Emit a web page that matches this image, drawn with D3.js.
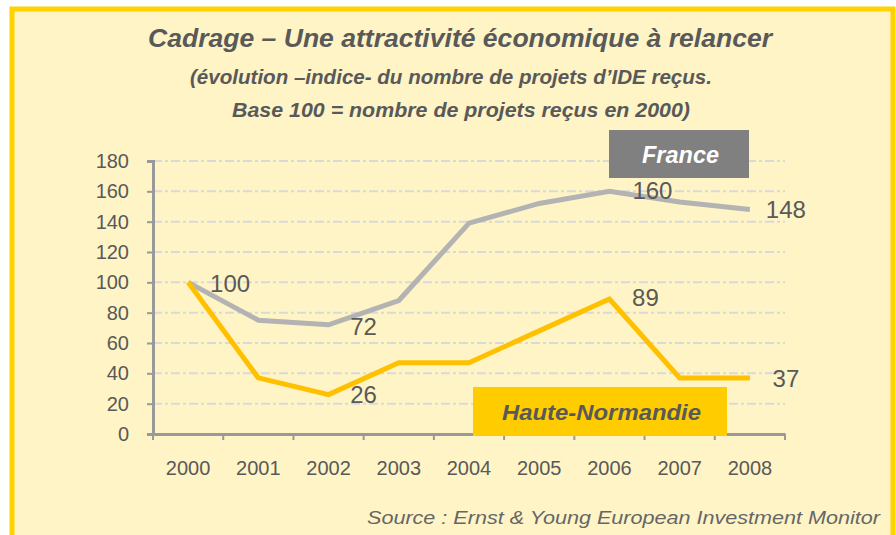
<!DOCTYPE html>
<html>
<head>
<meta charset="utf-8">
<script src="https://cdn.jsdelivr.net/npm/d3@7"></script>
<style>
  body { margin: 0; background: #ffffff; }
  svg { display: block; font-family: "Liberation Sans", Arial, sans-serif; }
</style>
</head>
<body>
<svg id="chart"></svg>
<script>
const years = ["2000", "2001", "2002", "2003", "2004", "2005", "2006", "2007", "2008"]
const france = [100, 75, 72, 88, 139, 152, 160, 153, 148]
const hauteNormandie = [100, 37, 26, 47, 47, 68, 89, 37, 37]
const yTicks = [0, 20, 40, 60, 80, 100, 120, 140, 160, 180]

const width = 896
const height = 535

let svg = d3.select("#chart")
  .attr("width", width)
  .attr("height", height)

// panel with yellow border
svg.append("rect")
  .attr("x", 12).attr("y", 9)
  .attr("width", 881).attr("height", 540)
  .attr("fill", "#fef4c6")
  .attr("stroke", "#ffd200")
  .attr("stroke-width", 5)

// text helper: fit to the measured width of the original
function fitText(str, x1, x2, yb, size, weight, style, color) {
  return svg.append("text")
    .attr("x", x1).attr("y", yb)
    .attr("textLength", x2 - x1)
    .attr("lengthAdjust", "spacingAndGlyphs")
    .attr("font-size", size)
    .attr("font-weight", weight)
    .attr("font-style", style)
    .attr("fill", color)
    .text(str)
}

fitText("Cadrage – Une attractivité économique à relancer", 148, 772, 47, 25, "bold", "italic", "#595959")
fitText("(évolution –indice- du nombre de projets d’IDE reçus.", 190, 712, 84, 20, "bold", "italic", "#595959")
fitText("Base 100 = nombre de projets reçus en 2000)", 232, 690, 117, 20, "bold", "italic", "#595959")

let x = d3.scaleBand().domain(years).range([153, 785])
let y = d3.scaleLinear().domain([0, 180]).range([434, 161])

// gridlines
svg.append("g")
  .selectAll("line")
  .data(yTicks.slice(1))
  .join("line")
  .attr("x1", 153).attr("x2", 785)
  .attr("y1", d => y(d)).attr("y2", d => y(d))
  .attr("stroke", "#d9d9d9")
  .attr("stroke-width", 2)
  .attr("stroke-dasharray", "9,3,3,3")

// y axis
let yAxis = svg.append("g")
  .attr("transform", "translate(153,0)")
  .call(d3.axisLeft(y).tickValues(yTicks).tickSize(6).tickPadding(18))
yAxis.select(".domain").attr("stroke", "#999999").attr("stroke-width", 3)
yAxis.selectAll(".tick line").attr("stroke", "#999999").attr("stroke-width", 2)
yAxis.selectAll("text")
  .attr("font-size", 20).attr("fill", "#595959")
  .attr("font-family", "Liberation Sans, Arial, sans-serif")

// x axis
let xAxis = svg.append("g")
  .attr("transform", "translate(0,434)")
  .call(d3.axisBottom(x).tickSize(0).tickPadding(27))
xAxis.select(".domain").attr("stroke", "#999999").attr("stroke-width", 3)
xAxis.selectAll("text")
  .attr("font-size", 20).attr("fill", "#595959")
  .attr("font-family", "Liberation Sans, Arial, sans-serif")
xAxis.append("g")
  .selectAll("line")
  .data(years.concat(["end"]))
  .join("line")
  .attr("x1", (d, i) => 153 + i * x.step())
  .attr("x2", (d, i) => 153 + i * x.step())
  .attr("y1", 0).attr("y2", 6)
  .attr("stroke", "#999999").attr("stroke-width", 2)

let line = d3.line()
  .x((d, i) => x(years[i]) + x.bandwidth() / 2)
  .y(d => y(d))

svg.append("path")
  .datum(france)
  .attr("d", line)
  .attr("fill", "none")
  .attr("stroke", "#b3b3b3")
  .attr("stroke-width", 5)

svg.append("path")
  .datum(hauteNormandie)
  .attr("d", line)
  .attr("fill", "none")
  .attr("stroke", "#ffc000")
  .attr("stroke-width", 5)

// value labels
const labels = [
  { year: "2000", value: 100, dx: 42, dy: 10 },
  { year: "2002", value: 72, dx: 35, dy: 10 },
  { year: "2006", value: 160, dx: 43, dy: 8 },
  { year: "2008", value: 148, dx: 36, dy: 8 },
  { year: "2002", value: 26, dx: 35, dy: 8 },
  { year: "2006", value: 89, dx: 36, dy: 7 },
  { year: "2008", value: 37, dx: 36, dy: 9 }
]
svg.append("g")
  .selectAll("text")
  .data(labels)
  .join("text")
  .attr("x", d => x(d.year) + x.bandwidth() / 2 + d.dx)
  .attr("y", d => y(d.value) + d.dy)
  .attr("text-anchor", "middle")
  .attr("font-size", 24)
  .attr("fill", "#595959")
  .text(d => d.value)

// series tags
svg.append("rect")
  .attr("x", 609).attr("y", 130).attr("width", 140).attr("height", 48)
  .attr("fill", "#808080")
fitText("France", 642, 719, 163, 24, "bold", "italic", "#ffffff")

svg.append("rect")
  .attr("x", 473).attr("y", 387).attr("width", 254).attr("height", 49)
  .attr("fill", "#ffcc00")
fitText("Haute-Normandie", 502, 701, 420, 22, "bold", "italic", "#595959")

fitText("Source : Ernst & Young European Investment Monitor", 367, 880, 524, 18, "normal", "italic", "#666666")
</script>
</body>
</html>
